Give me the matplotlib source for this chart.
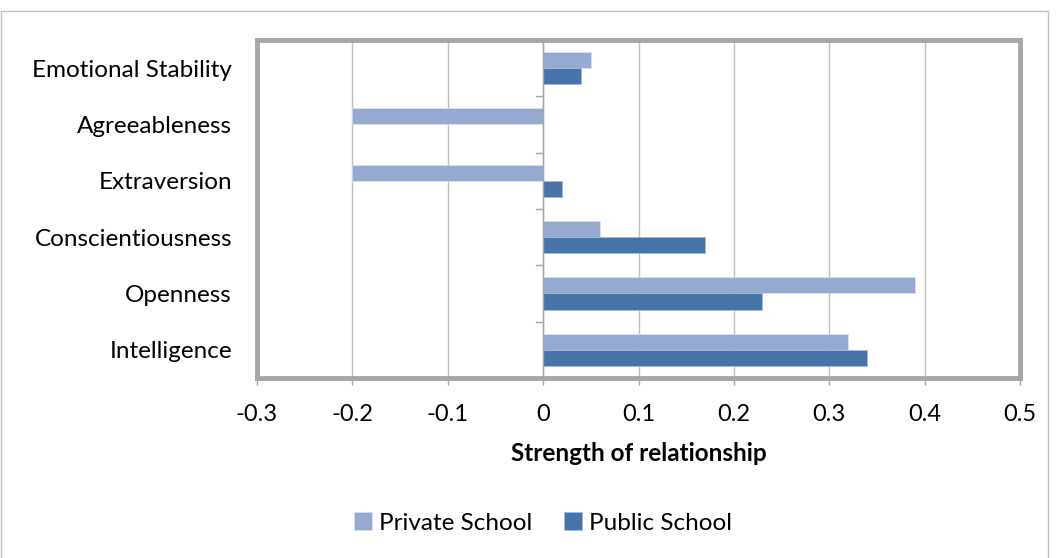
import matplotlib
matplotlib.use("Agg")
import matplotlib.pyplot as plt
import matplotlib.patches as patches
import numpy as np

# Data
categories = ["Emotional Stability", "Agreeableness", "Extraversion",
              "Conscientiousness", "Openness", "Intelligence"]
private_school = [0.05, -0.20, -0.20, 0.06, 0.39, 0.32]
public_school = [0.04, 0.0, 0.02, 0.17, 0.23, 0.34]
x_ticks = [-0.3, -0.2, -0.1, 0, 0.1, 0.2, 0.3, 0.4, 0.5]
x_tick_labels = ["-0.3", "-0.2", "-0.1", "0", "0.1", "0.2", "0.3", "0.4", "0.5"]

PRIVATE_COLOR = "#95A9D1"
PUBLIC_COLOR = "#4673A8"
FONT = "Lato"

plt.rcParams['font.family'] = [FONT, 'DejaVu Sans']

fig = plt.figure(figsize=(10.56, 5.58), dpi=100)
ax = fig.add_axes([257 / 1056, 1 - 378 / 558, (1020 - 257) / 1056, (378 - 40) / 558])

# Outer chart border
fig.patches.append(patches.Rectangle((0.5 / 1056, -0.01), 1047 / 1056, 1 - 11 / 558 + 0.01,
                                     transform=fig.transFigure, fill=False,
                                     edgecolor="#BFBFBF", linewidth=1))

n = len(categories)
y = np.arange(n)
bar_h = 0.285

ax.barh(y - bar_h / 2, private_school, height=bar_h, color=PRIVATE_COLOR,
        edgecolor="#DCE3F0", linewidth=0.5, label="Private School", zorder=3)
ax.barh(y + bar_h / 2, public_school, height=bar_h, color=PUBLIC_COLOR,
        edgecolor="#A9BCD8", linewidth=0.5, label="Public School", zorder=3)

ax.set_xlim(-0.3, 0.5)
ax.set_ylim(n - 0.5, -0.5)

ax.set_xticks(x_ticks)
ax.set_xticklabels(x_tick_labels, fontsize=17)
ax.tick_params(axis='x', length=5, width=1, color="#A6A6A6", direction='out', pad=14)
ax.set_yticks(y)
ax.set_yticklabels(categories, fontsize=17.5)
ax.tick_params(axis='y', length=0, pad=18)

ax.grid(axis='x', color="#BFBFBF", linewidth=1, zorder=0)
ax.set_axisbelow(True)

# Category axis at x = 0 with tick marks between categories
ax.axvline(0, color="#A6A6A6", linewidth=1, zorder=4)
for b in np.arange(0.5, n - 1, 1.0):
    ax.plot([-0.007, 0], [b, b], color="#A6A6A6", linewidth=1, zorder=4, clip_on=False)

for s in ax.spines.values():
    s.set_color("#A6A6A6")
    s.set_linewidth(3.5)

ax.set_xlabel("Strength of relationship", fontsize=17.5, fontweight='bold', labelpad=12)

fig.legend(loc='center', bbox_to_anchor=(543 / 1056, 1 - 523 / 558), ncol=2,
           frameon=False, fontsize=17.5, handlelength=0.75, handleheight=0.75,
           handletextpad=0.3, columnspacing=1.3)

fig.savefig("out.png", dpi=100)
